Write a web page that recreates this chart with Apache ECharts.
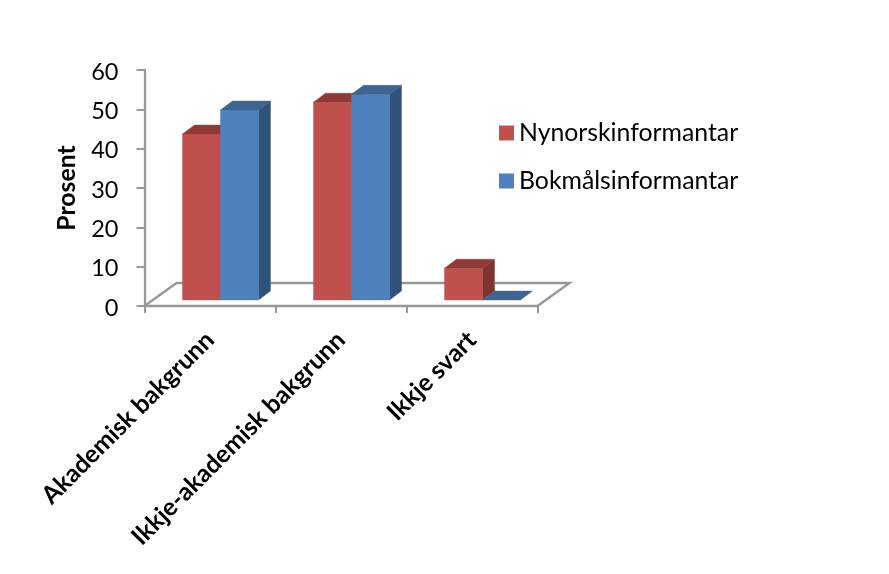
<!DOCTYPE html>
<html><head><meta charset="utf-8">
<style>html,body{margin:0;padding:0;background:#fff}#c{width:889px;height:574px}</style>
<script src="https://cdn.jsdelivr.net/npm/echarts@6/dist/echarts.min.js"></script>
</head><body><div id="c"></div>
<script>
const categories = ['Akademisk bakgrunn', 'Ikkje-akademisk bakgrunn', 'Ikkje svart'];
const nynorsk = [42.2, 50.3, 8.1];
const bokmaal = [48.3, 52.3, 0];
const yTicks = {min: 0, max: 60, interval: 10};
const AXIS = '#979797';
const FONT = 'Lato, Carlito, "Open Sans", sans-serif';

function poly(points, fill) {
  return {type: 'polygon', shape: {points}, style: {fill, stroke: fill, lineWidth: 0.4}};
}
function bar3d(slot, front, top, side) {
  return function (params, api) {
    const i = api.value(0), band = api.size([1, 0])[0];
    const w = band * 0.29, dx = 12, dy = 9, lift = 6;
    const c = api.coord([i, 0])[0] + band * 0.08;
    const x0 = c + (slot === 0 ? -w : 0), x1 = x0 + w;
    const yb = api.coord([i, 0])[1] - lift;
    const yt = api.coord([i, api.value(1)])[1] - lift;
    const kids = [];
    if (yb - yt > 0.5) {
      kids.push(poly([[x1, yb], [x1 + dx, yb - dy], [x1 + dx, yt - dy], [x1, yt]], side));
      kids.push(poly([[x0, yb], [x1, yb], [x1, yt], [x0, yt]], front));
    }
    kids.push(poly([[x0, yt], [x1, yt], [x1 + dx, yt - dy], [x0 + dx, yt - dy]], top));
    return {type: 'group', children: kids};
  };
}
function floor(params, api) {
  const band = api.size([1, 0])[0];
  const xl = api.coord([0, 0])[0] - band / 2, xr = api.coord([2, 0])[0] + band / 2;
  const y = api.coord([0, 0])[1], dx = 32, dy = 23;
  return {type: 'polyline', shape: {points: [[xl, y], [xl + dx, y - dy], [xr + dx, y - dy], [xr, y]]},
    style: {fill: 'none', stroke: AXIS, lineWidth: 2.4}};
}
const toRows = a => a.map((v, i) => [i, v]);

const chart = echarts.init(document.getElementById('c'));
chart.setOption({
  animation: false,
  backgroundColor: '#fff',
  grid: {left: 144.5, top: 70, width: 393, height: 236, containLabel: false},
  legend: {
    orient: 'vertical', left: 499, top: 119, padding: 0, itemWidth: 15, itemHeight: 15, itemGap: 20,
    icon: 'rect', selectedMode: false,
    data: ['Nynorskinformantar', 'Bokmålsinformantar'],
    textStyle: {fontFamily: FONT, fontSize: 24.8, color: '#000', lineHeight: 28}
  },
  xAxis: {
    type: 'category', data: categories,
    axisLine: {lineStyle: {color: AXIS, width: 2.4}},
    axisTick: {show: true, alignWithLabel: false, length: 7, lineStyle: {color: AXIS, width: 2}},
    axisLabel: {interval: 0, rotate: 45, margin: 30, fontFamily: FONT, fontWeight: 'bold', fontSize: 24.8, color: '#000', align: 'right', verticalAlign: 'middle'}
  },
  yAxis: {
    type: 'value', min: yTicks.min, max: yTicks.max, interval: yTicks.interval,
    name: 'Prosent', nameLocation: 'middle', nameGap: 65,
    nameTextStyle: {fontFamily: FONT, fontWeight: 'bold', fontSize: 24.8, color: '#000'},
    splitLine: {show: false},
    axisLine: {show: true, lineStyle: {color: AXIS, width: 2.4}},
    axisTick: {show: true, length: 8, lineStyle: {color: AXIS, width: 2}},
    axisLabel: {margin: 26, verticalAlign: 'top', lineHeight: 4, fontFamily: FONT, fontSize: 23.5, color: '#000'}
  },
  series: [
    {type: 'custom', name: 'floor', data: [[0, 0]], renderItem: floor, silent: true, encode: {x: 0, y: 1}, z: 1},
    {type: 'custom', name: 'Nynorskinformantar', data: toRows(nynorsk), encode: {x: 0, y: 1}, z: 2,
     itemStyle: {color: '#C0504D'}, renderItem: bar3d(0, '#C0504D', '#8F3A38', '#7F3230')},
    {type: 'custom', name: 'Bokmålsinformantar', data: toRows(bokmaal), encode: {x: 0, y: 1}, z: 3,
     itemStyle: {color: '#4F81BD'}, renderItem: bar3d(1, '#4F81BD', '#3E6491', '#31527B')}
  ]
});
</script></body></html>
